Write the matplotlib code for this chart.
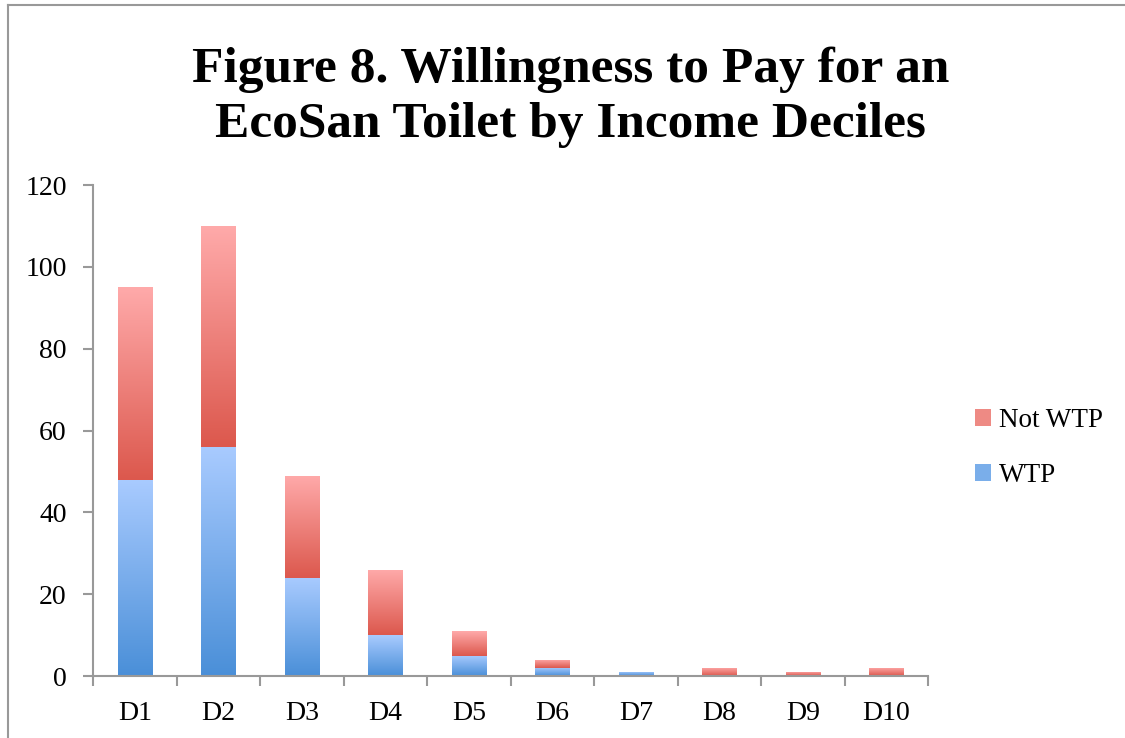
import matplotlib
matplotlib.use("Agg")
import matplotlib.pyplot as plt
from matplotlib.colors import LinearSegmentedColormap
from matplotlib.lines import Line2D
from matplotlib.patches import Patch
import numpy as np

# data
deciles = ["D1", "D2", "D3", "D4", "D5", "D6", "D7", "D8", "D9", "D10"]
wtp = [48, 56, 24, 10, 5, 2, 1, 0, 0, 0]
not_wtp = [47, 54, 25, 16, 6, 2, 0, 2, 1, 2]

plt.rcParams['font.family'] = ['Liberation Serif', 'DejaVu Serif']

fig = plt.figure(figsize=(11.25, 7.38), dpi=100)
ax = fig.add_axes([0.0827, 0.084, 0.7423, 0.6653])

x = np.arange(len(deciles))
width = 0.41
blue_cmap = LinearSegmentedColormap.from_list("b", ["#4a8fd8", "#a9cbff"])
red_cmap = LinearSegmentedColormap.from_list("r", ["#dc584d", "#ffaaaa"])
grad = np.linspace(0, 1, 256).reshape(-1, 1)

b1 = ax.bar(x, wtp, width, color="none", edgecolor="none")
b2 = ax.bar(x, not_wtp, width, bottom=wtp, color="none", edgecolor="none")

# vertical gradient fill for each bar
for bars, cmap in ((b1, blue_cmap), (b2, red_cmap)):
    for p in bars:
        x0, y0 = p.get_x(), p.get_y()
        w, h = p.get_width(), p.get_height()
        if h <= 0:
            continue
        im = ax.imshow(grad, cmap=cmap, origin="lower", aspect="auto",
                       extent=[x0, x0 + w, y0, y0 + h], zorder=2)
        im.set_clip_path(p)

ax.set_xlim(-0.5, len(deciles) - 0.5)
ax.set_ylim(0, 120)
ax.set_yticks(range(0, 121, 20))
ax.set_xticks(x)
ax.set_xticklabels(deciles)
ax.set_xticks(np.arange(-0.5, len(deciles), 1), minor=True)

for s in ["top", "right"]:
    ax.spines[s].set_visible(False)
for s in ["left", "bottom"]:
    ax.spines[s].set_color("#999999")
    ax.spines[s].set_linewidth(1.5)

ax.tick_params(axis="x", which="major", length=0, labelsize=20, pad=18)
ax.tick_params(axis="x", which="minor", length=7, width=1.5, color="#999999")
ax.tick_params(axis="y", length=7, width=1.5, color="#999999", labelsize=20, pad=12)

fig.text(0.507, 0.868, "Figure 8. Willingness to Pay for an\nEcoSan Toilet by Income Deciles",
         ha="center", va="center", fontsize=37, fontweight="bold", linespacing=1.27)

handles = [Patch(facecolor="#ee8a84", edgecolor="none"),
           Patch(facecolor="#7aaeea", edgecolor="none")]
fig.legend(handles, ["Not WTP", "WTP"], loc="center left",
           bbox_to_anchor=(0.845, 0.393), frameon=False, fontsize=19.5,
           handlelength=0.6, handleheight=0.6, handletextpad=0.3,
           labelspacing=1.1)

# outer frame lines (top and left only)
fig.add_artist(Line2D([0.007, 1.0], [0.993, 0.993], color="#999999", lw=1.5,
                      transform=fig.transFigure))
fig.add_artist(Line2D([0.007, 0.007], [0.0, 0.993], color="#999999", lw=1.5,
                      transform=fig.transFigure))

fig.savefig("out.png", dpi=100)
